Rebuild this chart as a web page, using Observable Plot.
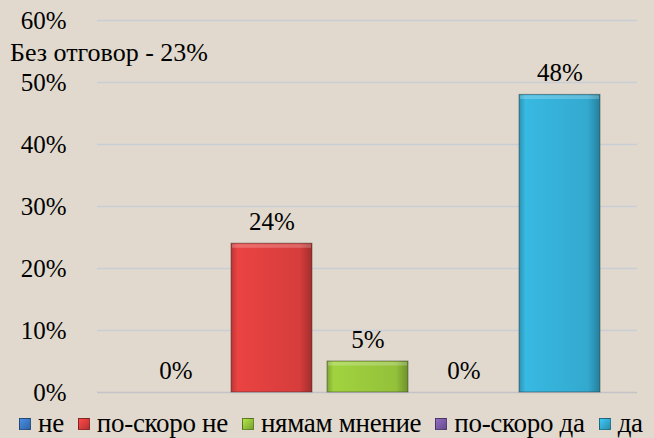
<!DOCTYPE html>
<html><head><meta charset="utf-8">
<script src="https://cdn.jsdelivr.net/npm/d3@7"></script>
<script src="https://cdn.jsdelivr.net/npm/@observablehq/plot@0.6"></script>
<style>
body{margin:0;background:#e1d9cd;}
#wrap{position:relative;width:654px;height:438px;overflow:hidden;background:#e1d9cd;font-family:"Liberation Serif","DejaVu Serif","Tinos","Times New Roman",serif;color:#000;}
#note{position:absolute;left:10px;top:38px;font-size:26px;line-height:30px;white-space:nowrap;}
#legend{position:absolute;left:0;top:407px;width:654px;height:33px;display:flex;align-items:center;font-size:27px;white-space:nowrap;letter-spacing:-0.3px;}
.item{display:flex;align-items:center;}
.sw{width:12px;height:12px;margin-right:7px;box-sizing:border-box;border:1px solid rgba(0,0,0,0.35);}
</style></head>
<body>
<div id="wrap">
  <div id="chart"></div>
  <div id="note"></div>
  <div id="legend"></div>
</div>
<script>
const categories = ["не", "по-скоро не", "нямам мнение", "по-скоро да", "да"];
const values = [0, 24, 5, 0, 48];
const colors = ["#3b78c2", "#d63d3c", "#93c13a", "#7b5ba6", "#33a9cf"];
const yTicks = [0, 10, 20, 30, 40, 50, 60];
const noteText = "Без отговор - 23%";

const FONT = "'Liberation Serif', 'DejaVu Serif', Tinos, 'Times New Roman', serif";
const data = categories.map((c, i) => ({cat: c, value: values[i]}));
const ids = categories.map((c, i) => "g" + i);

const svg = Plot.plot({
  width: 654,
  height: 405,
  marginTop: 20,
  marginBottom: 13,
  marginLeft: 97,
  marginRight: 17,
  style: {background: "transparent", fontFamily: FONT, fontSize: "25px", color: "#000"},
  x: {domain: categories, paddingInner: 0.16, paddingOuter: 0.378, axis: null},
  y: {domain: [0, 60], axis: null},
  color: {domain: categories, range: ids.map(id => `url(#${id})`)},
  marks: [
    Plot.ruleY(yTicks.filter(t => t > 0), {stroke: "#c9ced6", strokeWidth: 1.5}),
    Plot.ruleY([0], {stroke: "#c2c4c8", strokeWidth: 1.5}),
    Plot.axisY({ticks: yTicks, tickSize: 0, tickPadding: 31, tickFormat: d => d + "%", label: null, fontSize: 25, fill: "#000", fontFamily: FONT}),
    Plot.barY(data, {x: "cat", y: "value", fill: "cat", stroke: "rgba(40,40,40,0.45)", strokeWidth: 1}),
    Plot.barY(data.filter(d => d.value > 0), {x: "cat", y1: d => d.value - 0.9, y2: "value", fill: "white", fillOpacity: 0.22, inset: 1}),
    Plot.text(data, {x: "cat", y: "value", text: d => d.value + "%", dy: -22, fontSize: 25, fill: "#000", fontFamily: FONT})
  ]
});

// gradients for bar shading
const defs = d3.select(svg).insert("defs", ":first-child");
categories.forEach((c, i) => {
  const base = d3.color(colors[i]);
  const g = defs.append("linearGradient").attr("id", ids[i]).attr("x1", 0).attr("x2", 1).attr("y1", 0).attr("y2", 0);
  g.append("stop").attr("offset", "0%").attr("stop-color", base.darker(0.4));
  g.append("stop").attr("offset", "8%").attr("stop-color", base.brighter(0.25));
  g.append("stop").attr("offset", "85%").attr("stop-color", base);
  g.append("stop").attr("offset", "100%").attr("stop-color", base.darker(0.8));
});
document.getElementById("chart").appendChild(svg);

document.getElementById("note").textContent = noteText;

const legend = document.getElementById("legend");
categories.forEach((c, i) => {
  const it = document.createElement("div");
  it.className = "item";
  it.style.marginLeft = i === 0 ? "19px" : "14px";
  const sw = document.createElement("div");
  sw.className = "sw";
  const base = d3.color(colors[i]);
  sw.style.background = `linear-gradient(135deg, ${base.brighter(0.5)}, ${base.darker(0.5)})`;
  const t = document.createElement("span");
  t.textContent = c;
  it.appendChild(sw); it.appendChild(t);
  legend.appendChild(it);
});
</script>
</body></html>
